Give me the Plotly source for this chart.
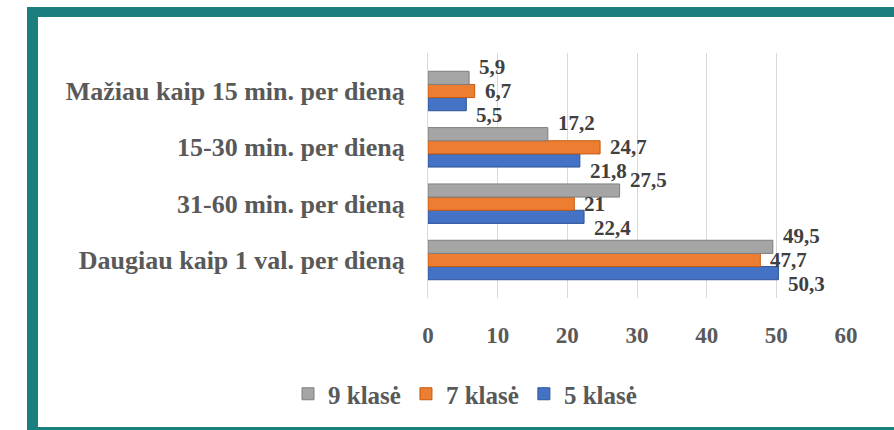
import plotly.graph_objects as go

categories = ["Daugiau kaip 1 val. per dieną", "31-60 min. per dieną",
              "15-30 min. per dieną", "Mažiau kaip 15 min. per dieną"]
klase5 = [50.3, 22.4, 21.8, 5.5]
klase7 = [47.7, 21, 24.7, 6.7]
klase9 = [49.5, 27.5, 17.2, 5.9]
series_names = ["5 klasė", "7 klasė", "9 klasė"]
colors = ["#4472C4", "#ED7D31", "#A5A5A5"]
edge = ["#2F5597", "#C55A11", "#7F7F7F"]
x_ticks = [0, 10, 20, 30, 40, 50, 60]

FONT = "Liberation Serif"

W, H = 894, 430
L, R, T, B = 428, 48, 53, 132
pw, ph = W - L - R, H - T - B

def px(x):
    return (x - L) / pw

def py(y):
    return (H - B - y) / ph

fig = go.Figure()
label_shift = [-24, 0, 24]
annotations = []
for name, vals, c, e, ys in zip(series_names, [klase5, klase7, klase9], colors, edge, label_shift):
    fig.add_trace(go.Bar(
        y=categories, x=vals, name=name, orientation="h",
        marker=dict(color=c, line=dict(color=e, width=1)),
    ))
    for cat, v in zip(categories, vals):
        annotations.append(dict(
            x=v, y=cat, xref="x", yref="y", text=str(v).replace(".", ","),
            showarrow=False, xanchor="left", yanchor="middle", xshift=8, yshift=ys,
            font=dict(family=FONT, size=21, color="#404040", weight="bold"),
        ))

teal = "#1B7F7E"
shapes = [
    dict(type="rect", xref="paper", yref="paper", x0=px(27), x1=px(38), y0=py(431), y1=py(7),
         fillcolor=teal, line=dict(width=0), layer="below"),
    dict(type="rect", xref="paper", yref="paper", x0=px(27), x1=px(895), y0=py(17), y1=py(7),
         fillcolor=teal, line=dict(width=0), layer="below"),
    dict(type="rect", xref="paper", yref="paper", x0=px(27), x1=px(895), y0=py(431), y1=py(427),
         fillcolor=teal, line=dict(width=0), layer="below"),
]

fig.update_layout(
    width=W, height=H,
    margin=dict(l=L, r=R, t=T, b=B, pad=0, autoexpand=False),
    paper_bgcolor="white", plot_bgcolor="white",
    font=dict(family=FONT, color="#595959"),
    barmode="group", bargap=0.30, bargroupgap=0,
    shapes=shapes, annotations=annotations,
    showlegend=True,
    legend=dict(orientation="h", traceorder="reversed", x=px(288), xanchor="left",
                y=py(394), yanchor="middle",
                font=dict(family=FONT, size=25, color="#595959", weight="bold"),
                itemwidth=30),
    xaxis=dict(range=[0, 60], tickvals=x_ticks, showgrid=True, gridcolor="#D9D9D9",
               gridwidth=1, zeroline=False, showline=False, ticks="",
               ticklabelstandoff=21,
               tickfont=dict(family=FONT, size=23, color="#595959", weight="bold")),
    yaxis=dict(categoryorder="array", categoryarray=categories, showgrid=False,
               showline=True, linecolor="#D9D9D9", ticks="", ticklabelstandoff=17,
               tickfont=dict(family=FONT, size=26, color="#595959", weight="bold")),
)

fig.write_html("out.html", config={"displayModeBar": False},
               post_script="document.body.style.margin='0';")
